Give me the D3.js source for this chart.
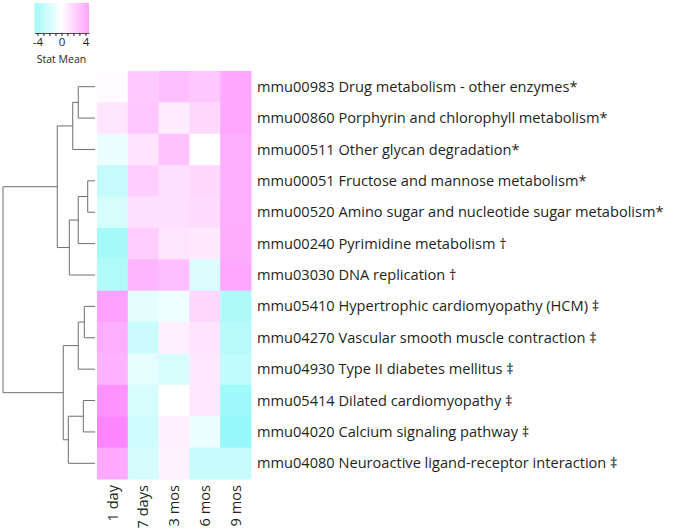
<!DOCTYPE html>
<html>
<head>
<meta charset="utf-8">
<script src="https://cdn.jsdelivr.net/npm/d3@7"></script>
<style>
  html, body { margin: 0; padding: 0; background: #fff; }
  svg { display: block; }
  text { font-family: "Open Sans", "Noto Sans", sans-serif; fill: #231f20; }
</style>
</head>
<body>
<svg id="chart" width="673" height="531"></svg>
<script>
// ---- data ----
const columns = ["1 day", "7 days", "3 mos", "6 mos", "9 mos"];
const pathways = [
  "mmu00983 Drug metabolism - other enzymes*",
  "mmu00860 Porphyrin and chlorophyll metabolism*",
  "mmu00511 Other glycan degradation*",
  "mmu00051 Fructose and mannose metabolism*",
  "mmu00520 Amino sugar and nucleotide sugar metabolism*",
  "mmu00240 Pyrimidine metabolism \u2020",
  "mmu03030 DNA replication \u2020",
  "mmu05410 Hypertrophic cardiomyopathy (HCM)  \u2021",
  "mmu04270 Vascular smooth muscle contraction \u2021",
  "mmu04930 Type II diabetes mellitus \u2021",
  "mmu05414 Dilated cardiomyopathy \u2021",
  "mmu04020 Calcium signaling pathway \u2021",
  "mmu04080 Neuroactive ligand-receptor interaction \u2021"
];
// stat mean per pathway (rows) and time point (columns)
const row00983 = [ 0.2,  2.6,  3.2,  2.8,  4.3];
const row00860 = [ 1.3,  2.8,  0.9,  2.0,  4.4];
const row00511 = [-0.9,  1.4,  3.0,  0.0,  4.0];
const row00051 = [-2.8,  2.4,  1.6,  2.0,  4.0];
const row00520 = [-2.0,  1.6,  1.6,  1.8,  4.0];
const row00240 = [-4.4,  2.4,  1.3,  1.1,  4.1];
const row03030 = [-3.8,  3.6,  3.2, -1.8,  4.3];
const row05410 = [ 4.6, -1.4, -0.8,  2.0, -4.0];
const row04270 = [ 4.0, -2.6,  0.8,  1.4, -3.6];
const row04930 = [ 3.8, -1.3, -2.0,  1.2, -3.0];
const row05414 = [ 5.4, -2.0,  0.0,  1.2, -4.8];
const row04020 = [ 6.0, -2.4,  0.8, -0.9, -5.2];
const row04080 = [ 4.2, -2.1,  0.6, -2.8, -2.8];
const values = [row00983, row00860, row00511, row00051, row00520, row00240, row03030,
                row05410, row04270, row04930, row05414, row04020, row04080];
// hierarchical clustering merges: [left node, right node, height]; leaves are 0..12, new nodes 13..
const merges = [
  [0, 1, 1.82],
  [13, 2, 2.42],
  [3, 4, 0.79],
  [15, 5, 1.82],
  [16, 6, 2.79],
  [14, 17, 4.10],
  [7, 8, 1.16],
  [19, 9, 1.82],
  [10, 11, 1.27],
  [21, 12, 2.90],
  [20, 22, 3.45],
  [18, 23, 10.0]
];
const legendTicks = [-4, -3, -2, -1, 0, 1, 2, 3, 4];
const legendLabels = [-4, 0, 4];
const legendDomain = [-4.5, 4.6];

// ---- layout ----
const svg = d3.select("#chart");
const x = d3.scaleBand().domain(columns).range([97, 251]);
const y = d3.scaleBand().domain(d3.range(pathways.length)).range([71, 479]);
const color = d3.scaleLinear().domain([-4.5, 0, 4.5])
  .range(["#a4f9f9", "#ffffff", "#ffa4ff"]).interpolate(d3.interpolateRgb);

// heatmap
const cells = [];
values.forEach((row, i) => row.forEach((v, j) => cells.push({i, j, v})));
svg.append("g").selectAll("rect").data(cells).join("rect")
  .attr("x", d => x(columns[d.j]))
  .attr("y", d => y(d.i))
  .attr("width", x.bandwidth() + 0.5)
  .attr("height", y.bandwidth() + 0.5)
  .attr("fill", d => color(d.v));

// row labels
svg.append("g").selectAll("text").data(pathways).join("text")
  .attr("x", 257)
  .attr("y", (d, i) => y(i) + y.bandwidth() / 2)
  .attr("dy", "0.35em")
  .style("font-size", "14.6px")
  .text(d => d);

// column labels
svg.append("g").selectAll("text").data(columns).join("text")
  .attr("transform", d => `translate(${x(d) + x.bandwidth() / 2},485) rotate(-90)`)
  .attr("text-anchor", "end")
  .attr("dy", "0.35em")
  .style("font-size", "14.6px")
  .text(d => d);

// dendrogram
const maxH = d3.max(merges, m => m[2]);
const hx = d3.scaleLinear().domain([0, maxH]).range([95, 3]);
const nodes = d3.range(pathways.length).map(i => ({y: y(i) + y.bandwidth() / 2, h: 0}));
const dg = svg.append("g").attr("fill", "none").attr("stroke", "#6d6e71").attr("stroke-width", 1);
merges.forEach(([a, b, h]) => {
  const A = nodes[a], B = nodes[b];
  const p = d3.path();
  p.moveTo(hx(A.h), A.y); p.lineTo(hx(h), A.y);
  p.lineTo(hx(h), B.y); p.lineTo(hx(B.h), B.y);
  dg.append("path").attr("d", p.toString());
  nodes.push({y: (A.y + B.y) / 2, h});
});

// legend
const lx = d3.scaleLinear().domain(legendDomain).range([34.5, 89]);
const defs = svg.append("defs");
const grad = defs.append("linearGradient").attr("id", "lg");
d3.range(0, 1.0001, 0.05).forEach(t => {
  const v = legendDomain[0] + t * (legendDomain[1] - legendDomain[0]);
  grad.append("stop").attr("offset", t).attr("stop-color", color(v));
});
svg.append("rect").attr("x", lx(legendDomain[0])).attr("y", 3)
  .attr("width", lx(legendDomain[1]) - lx(legendDomain[0])).attr("height", 30)
  .attr("fill", "url(#lg)");
const lAxis = d3.axisBottom(lx).tickValues(legendTicks).tickSize(3).tickSizeOuter(0)
  .tickFormat(d => legendLabels.includes(d) ? String(d) : "");
const ag = svg.append("g").attr("transform", "translate(0,33)").call(lAxis);
ag.select(".domain").attr("stroke", "#231f20").attr("stroke-width", 0.8);
ag.selectAll(".tick line").attr("stroke", "#231f20");
ag.selectAll(".tick text").attr("y", 5).style("font-size", "11.5px").style("font-family", "'Open Sans', sans-serif").attr("fill", "#231f20");
svg.append("text").attr("x", lx(0)).attr("y", 63).attr("text-anchor", "middle")
  .style("font-size", "10.5px").text("Stat Mean");
</script>
</body>
</html>
